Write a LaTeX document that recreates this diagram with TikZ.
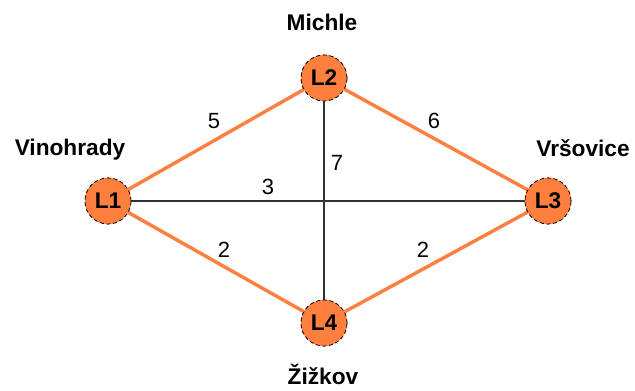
\documentclass[tikz,border=0pt]{standalone}
\usepackage{fontspec}
\setmainfont{Liberation Sans}
\definecolor{nodeorange}{RGB}{255,127,63}
\definecolor{edgeorange}{RGB}{255,128,64}

\begin{document}
\begin{tikzpicture}[x=0.75pt,y=-0.75pt]
		\tikzset{
			place/.style = {circle,draw=black,densely dashed,line width=0.5pt,fill=nodeorange,minimum size=34.5pt,inner sep=0pt,font=\bfseries\fontsize{17}{20}\selectfont},
			city/.style = {font=\bfseries\fontsize{17}{20}\selectfont},
			weight/.style = {font=\fontsize{16.5}{20}\selectfont},
			route/.style = {edgeorange,line width=2.6pt},
			link/.style = {black!80,line width=1.1pt}
		}
		\useasboundingbox (0,0) rectangle (635,390);
		\node [place] (l1) at (108,201) {L1};
		\node [place] (l2) at (324,78) {L2};
		\node [place] (l3) at (548,201) {L3};
		\node [place] (l4) at (324,323) {L4};
		% cross links
		\draw [link] (l1) -- (l3);
		\draw [link] (l2) -- (l4);
		% outer ring
		\draw [route] (l1) -- (l2);
		\draw [route] (l2) -- (l3);
		\draw [route] (l3) -- (l4);
		\draw [route] (l4) -- (l1);
		\node [place] at (l1) {L1};
		\node [place] at (l2) {L2};
		\node [place] at (l3) {L3};
		\node [place] at (l4) {L4};
		% names
		\node [city] (michle) at (322,22) {Michle};
		\node [city] (vinohrady) at (70,150) {Vinohrady};
		\node [city] (vrsovice) at (583,148) {Vršovice};
		\node [city] (zizkov) at (323,374) {Žižkov};
		% weights
		\node [weight] (w12) at (214,121) {5};
		\node [weight] (w23) at (434,121) {6};
		\node [weight] (w24) at (337,163) {7};
		\node [weight] (w13) at (268,187) {3};
		\node [weight] (w14) at (224,250) {2};
		\node [weight] (w34) at (423,250) {2};
		\end{tikzpicture}
\end{document}
